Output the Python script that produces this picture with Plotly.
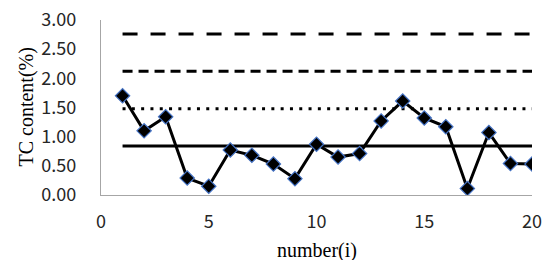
import plotly.graph_objects as go

sample_no = list(range(1, 21))
tc_content = [1.70, 1.10, 1.34, 0.29, 0.15, 0.77, 0.68, 0.53, 0.28, 0.87,
              0.65, 0.71, 1.27, 1.61, 1.32, 1.17, 0.11, 1.07, 0.54, 0.53]
mean_line = 0.84
line_2s = 1.48
line_4s = 2.12
line_6s = 2.76

y_ticks = [0, 0.5, 1.0, 1.5, 2.0, 2.5, 3.0]
x_ticks = [0, 5, 10, 15, 20]

fig = go.Figure()

ref_specs = [
    (line_6s, "15px,13px"),
    (line_4s, "10px,6px"),
    (line_2s, "3px,6.3px"),
    (mean_line, "solid"),
]
for val, dash in ref_specs:
    fig.add_trace(go.Scatter(
        x=sample_no, y=[val] * len(sample_no), mode="lines",
        line=dict(color="black", width=3, dash=dash),
        hoverinfo="skip", showlegend=False))

fig.add_trace(go.Scatter(
    x=sample_no, y=tc_content, mode="lines+markers",
    line=dict(color="black", width=3),
    marker=dict(symbol="diamond", size=11, color="black",
                line=dict(color="#4472C4", width=1.2)),
    showlegend=False))

tick_font = dict(family="Noto Sans CJK SC, Noto Sans, sans-serif", size=18, color="#262626")
title_font = dict(family="Liberation Serif, Times New Roman, serif", size=20, color="black")

fig.update_layout(
    width=544, height=260,
    margin=dict(l=101, r=12, t=20, b=65, autoexpand=False),
    paper_bgcolor="white", plot_bgcolor="white",
    xaxis=dict(range=[0, 20], tickvals=x_ticks, ticktext=[str(v) for v in x_ticks],
               showgrid=False, zeroline=False, showline=True, linecolor="#A6A6A6",
               linewidth=1.3, ticks="", tickfont=tick_font, ticklabelstandoff=10,
               automargin=False),
    yaxis=dict(range=[0, 3], tickvals=y_ticks, ticktext=[f"{v:.2f}" for v in y_ticks],
               showgrid=False, zeroline=False, showline=True, linecolor="#A6A6A6",
               linewidth=1.3, ticks="", tickfont=tick_font, ticklabelstandoff=20,
               automargin=False),
    annotations=[
        dict(text="number(i)", xref="paper", yref="paper", x=0.5, y=0,
             xanchor="center", yanchor="middle",
             yshift=-55, showarrow=False, font=title_font),
        dict(text="TC content(%)", xref="paper", yref="paper", x=0, y=0.5,
             xanchor="center", yanchor="middle",
             xshift=-75, textangle=-90, showarrow=False, font=title_font),
    ],
)

fig.write_html("out.html", config={"displayModeBar": False},
               post_script="document.body.style.margin='0px';")
